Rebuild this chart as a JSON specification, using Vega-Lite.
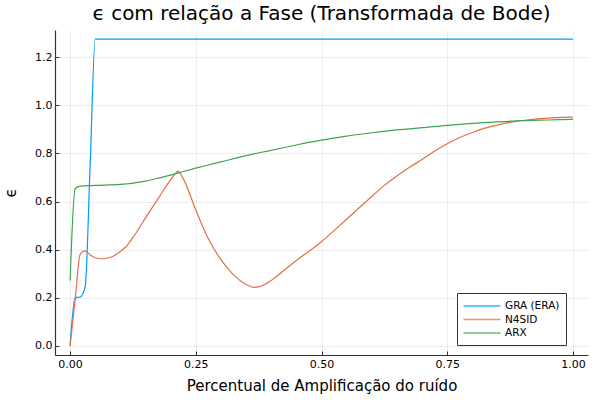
{
  "$schema": "https://vega.github.io/schema/vega-lite/v6.json",
  "autosize": "none",
  "width": 533,
  "height": 325,
  "padding": {"left": 55, "top": 30, "right": 12, "bottom": 45},
  "background": "white",
  "config": {
    "font": "DejaVu Sans",
    "view": {"stroke": null}
  },
  "title": {
    "text": "ϵ com relação a Fase (Transformada de Bode)",
    "fontSize": 20,
    "fontWeight": "normal",
    "color": "#000000",
    "anchor": "middle",
    "offset": 6
  },
  "data": {
    "values": [
      {"x": 0, "y": 0, "s": "GRA (ERA)"},
      {"x": 0.01, "y": 0.2, "s": "GRA (ERA)"},
      {"x": 0.02, "y": 0.203, "s": "GRA (ERA)"},
      {"x": 0.03, "y": 0.245, "s": "GRA (ERA)"},
      {"x": 0.04, "y": 0.76, "s": "GRA (ERA)"},
      {"x": 0.05, "y": 1.275, "s": "GRA (ERA)"},
      {"x": 0.25, "y": 1.275, "s": "GRA (ERA)"},
      {"x": 0.5, "y": 1.275, "s": "GRA (ERA)"},
      {"x": 0.75, "y": 1.275, "s": "GRA (ERA)"},
      {"x": 1.0, "y": 1.275, "s": "GRA (ERA)"},

      {"x": 0, "y": 0, "s": "N4SID"},
      {"x": 0.01, "y": 0.19, "s": "N4SID"},
      {"x": 0.02, "y": 0.38, "s": "N4SID"},
      {"x": 0.03, "y": 0.395, "s": "N4SID"},
      {"x": 0.04, "y": 0.378, "s": "N4SID"},
      {"x": 0.05, "y": 0.366, "s": "N4SID"},
      {"x": 0.06, "y": 0.362, "s": "N4SID"},
      {"x": 0.07, "y": 0.363, "s": "N4SID"},
      {"x": 0.08, "y": 0.368, "s": "N4SID"},
      {"x": 0.09, "y": 0.378, "s": "N4SID"},
      {"x": 0.1, "y": 0.392, "s": "N4SID"},
      {"x": 0.11, "y": 0.41, "s": "N4SID"},
      {"x": 0.125, "y": 0.45, "s": "N4SID"},
      {"x": 0.15, "y": 0.532, "s": "N4SID"},
      {"x": 0.175, "y": 0.612, "s": "N4SID"},
      {"x": 0.2, "y": 0.69, "s": "N4SID"},
      {"x": 0.215, "y": 0.725, "s": "N4SID"},
      {"x": 0.225, "y": 0.695, "s": "N4SID"},
      {"x": 0.25, "y": 0.565, "s": "N4SID"},
      {"x": 0.275, "y": 0.445, "s": "N4SID"},
      {"x": 0.3, "y": 0.358, "s": "N4SID"},
      {"x": 0.325, "y": 0.295, "s": "N4SID"},
      {"x": 0.35, "y": 0.255, "s": "N4SID"},
      {"x": 0.365, "y": 0.243, "s": "N4SID"},
      {"x": 0.375, "y": 0.245, "s": "N4SID"},
      {"x": 0.4, "y": 0.272, "s": "N4SID"},
      {"x": 0.425, "y": 0.313, "s": "N4SID"},
      {"x": 0.45, "y": 0.355, "s": "N4SID"},
      {"x": 0.475, "y": 0.393, "s": "N4SID"},
      {"x": 0.5, "y": 0.433, "s": "N4SID"},
      {"x": 0.525, "y": 0.479, "s": "N4SID"},
      {"x": 0.55, "y": 0.526, "s": "N4SID"},
      {"x": 0.575, "y": 0.574, "s": "N4SID"},
      {"x": 0.6, "y": 0.621, "s": "N4SID"},
      {"x": 0.625, "y": 0.667, "s": "N4SID"},
      {"x": 0.65, "y": 0.706, "s": "N4SID"},
      {"x": 0.675, "y": 0.742, "s": "N4SID"},
      {"x": 0.7, "y": 0.775, "s": "N4SID"},
      {"x": 0.725, "y": 0.81, "s": "N4SID"},
      {"x": 0.75, "y": 0.84, "s": "N4SID"},
      {"x": 0.775, "y": 0.866, "s": "N4SID"},
      {"x": 0.8, "y": 0.887, "s": "N4SID"},
      {"x": 0.825, "y": 0.905, "s": "N4SID"},
      {"x": 0.85, "y": 0.918, "s": "N4SID"},
      {"x": 0.875, "y": 0.929, "s": "N4SID"},
      {"x": 0.9, "y": 0.937, "s": "N4SID"},
      {"x": 0.925, "y": 0.943, "s": "N4SID"},
      {"x": 0.95, "y": 0.947, "s": "N4SID"},
      {"x": 0.975, "y": 0.95, "s": "N4SID"},
      {"x": 1.0, "y": 0.951, "s": "N4SID"},

      {"x": 0, "y": 0.271, "s": "ARX"},
      {"x": 0.01, "y": 0.653, "s": "ARX"},
      {"x": 0.02, "y": 0.664, "s": "ARX"},
      {"x": 0.05, "y": 0.667, "s": "ARX"},
      {"x": 0.1, "y": 0.671, "s": "ARX"},
      {"x": 0.15, "y": 0.685, "s": "ARX"},
      {"x": 0.175, "y": 0.697, "s": "ARX"},
      {"x": 0.2, "y": 0.71, "s": "ARX"},
      {"x": 0.225, "y": 0.725, "s": "ARX"},
      {"x": 0.25, "y": 0.739, "s": "ARX"},
      {"x": 0.275, "y": 0.752, "s": "ARX"},
      {"x": 0.3, "y": 0.765, "s": "ARX"},
      {"x": 0.35, "y": 0.791, "s": "ARX"},
      {"x": 0.4, "y": 0.813, "s": "ARX"},
      {"x": 0.45, "y": 0.835, "s": "ARX"},
      {"x": 0.5, "y": 0.855, "s": "ARX"},
      {"x": 0.55, "y": 0.872, "s": "ARX"},
      {"x": 0.6, "y": 0.886, "s": "ARX"},
      {"x": 0.65, "y": 0.898, "s": "ARX"},
      {"x": 0.7, "y": 0.907, "s": "ARX"},
      {"x": 0.75, "y": 0.917, "s": "ARX"},
      {"x": 0.8, "y": 0.925, "s": "ARX"},
      {"x": 0.85, "y": 0.931, "s": "ARX"},
      {"x": 0.9, "y": 0.936, "s": "ARX"},
      {"x": 0.95, "y": 0.939, "s": "ARX"},
      {"x": 1.0, "y": 0.942, "s": "ARX"}
    ]
  },
  "mark": {"type": "line", "strokeWidth": 1.2, "clip": true, "interpolate": "monotone"},
  "encoding": {
    "x": {
      "field": "x",
      "type": "quantitative",
      "scale": {"domain": [-0.03, 1.03], "nice": false, "zero": false},
      "axis": {
        "title": "Percentual de Amplificação do ruído",
        "titleFontSize": 15,
        "titleFontWeight": "normal",
        "titleColor": "#000000",
        "titlePadding": 9,
        "values": [0, 0.25, 0.5, 0.75, 1],
        "format": ".2f",
        "labelFontSize": 11,
        "labelColor": "#000000",
        "labelPadding": 7,
        "tickSize": -4,
        "tickColor": "#333333",
        "domainColor": "#333333",
        "domainWidth": 1.2,
        "grid": true,
        "gridColor": "#000000",
        "gridOpacity": 0.07
      }
    },
    "y": {
      "field": "y",
      "type": "quantitative",
      "scale": {"domain": [-0.03825, 1.31325], "nice": false, "zero": false},
      "axis": {
        "title": "ϵ",
        "titleFontSize": 15,
        "titleFontWeight": "normal",
        "titleColor": "#000000",
        "titlePadding": 16,
        "values": [0, 0.2, 0.4, 0.6, 0.8, 1.0, 1.2],
        "format": ".1f",
        "labelFontSize": 11,
        "labelColor": "#000000",
        "labelPadding": 7,
        "tickSize": -4,
        "tickColor": "#333333",
        "domainColor": "#333333",
        "domainWidth": 1.2,
        "grid": true,
        "gridColor": "#000000",
        "gridOpacity": 0.07
      }
    },
    "color": {
      "field": "s",
      "type": "nominal",
      "sort": null,
      "scale": {
        "domain": ["GRA (ERA)", "N4SID", "ARX"],
        "range": ["#009AFA", "#E36F47", "#3EA44E"]
      },
      "legend": {
        "title": null,
        "orient": "none",
        "legendX": 402,
        "legendY": 263,
        "symbolType": "M-3,0H3",
        "symbolSize": 152,
        "symbolOffset": 12,
        "symbolStrokeWidth": 1.5,
        "symbolOpacity": 0.75,
        "labelFontSize": 10.5,
        "labelColor": "#000000",
        "labelOffset": 16,
        "rowPadding": 0.5,
        "padding": 6,
        "strokeColor": "#333333",
        "fillColor": "white"
      }
    }
  }
}
